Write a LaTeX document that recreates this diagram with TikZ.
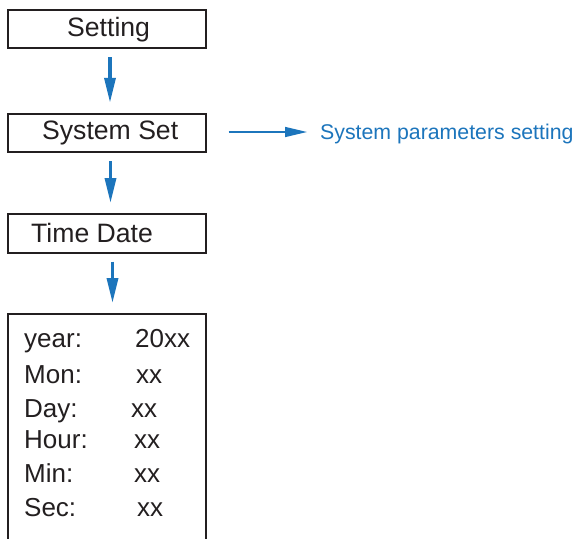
\documentclass[tikz,border=0pt]{standalone}
\usepackage{fontspec}
\setmainfont{Liberation Sans}
\usepackage{xcolor}
\usetikzlibrary{arrows.meta}
\definecolor{ink}{HTML}{231F20}
\definecolor{flow}{HTML}{1C75BC}

\begin{document}
\begin{tikzpicture}[
  x=1pt, y=-1pt,
  box/.style={draw=ink, line width=2pt, minimum width=198pt, minimum height=38.5pt, inner sep=0pt},
  lbl/.style={anchor=base west, inner sep=0pt, text=ink, font=\fontsize{26.6}{30}\selectfont},
  row/.style={anchor=base west, inner sep=0pt, text=ink, font=\fontsize{26}{30}\selectfont},
  arrow/.style={-{Triangle[length=25pt,width=11pt]}, line width=3.5pt, flow, shorten <=8pt, shorten >=10pt},
  sidearrow/.style={-{Triangle[length=22pt,width=10pt]}, line width=1.5pt, flow, shorten <=22pt, shorten >=13pt}
]
  \path[use as bounding box, fill=white] (0,0) rectangle (575,538);

  % menu boxes
  \node[box] (setting) at (106.5,28.75) {};
  \node[box] (sysset) at (106.5,133) {};
  \node[box] (timedate) at (106.5,233.25) {};
  \node[box, minimum height=240pt, anchor=north] (clock) at (106.5,313) {};

  % box labels
  \node[lbl] (settingtxt) at (67,36) {Setting};
  \node[lbl] (syssettxt) at (42,139) {System Set};
  \node[lbl] (timedatetxt) at (31,242) {Time Date};

  % clock fields
  \node[row] (year) at (24,347) {year:};
  \node[row] (mon) at (24,383) {Mon:};
  \node[row] (day) at (24,417) {Day:};
  \node[row] (hour) at (24,448) {Hour:};
  \node[row] (min) at (24,482) {Min:};
  \node[row] (sec) at (24,516) {Sec:};
  \node[row] (yearval) at (135,347) {20xx};
  \node[row] (monval) at (136,383) {xx};
  \node[row] (dayval) at (131,417) {xx};
  \node[row] (hourval) at (134,448) {xx};
  \node[row] (minval) at (134,482) {xx};
  \node[row] (secval) at (137,516) {xx};

  % Arrows
  \draw[arrow] ([xshift=3.5pt]setting.south) -- ([xshift=3.5pt]sysset.north);
  \draw[arrow] ([xshift=4pt]sysset.south) -- ([xshift=4pt]timedate.north);
  \draw[arrow] ([xshift=6pt]timedate.south) -- ([xshift=6pt]clock.north);

  % side note
  \node[anchor=base west, inner sep=0pt, text=flow, font=\fontsize{21.3}{26}\selectfont] (sysparam) at (320,139) {System parameters setting};
  \draw[sidearrow] ([yshift=1pt]sysset.east) -- ([yshift=1pt]sysset.east -| sysparam.west);
\end{tikzpicture}
\end{document}
